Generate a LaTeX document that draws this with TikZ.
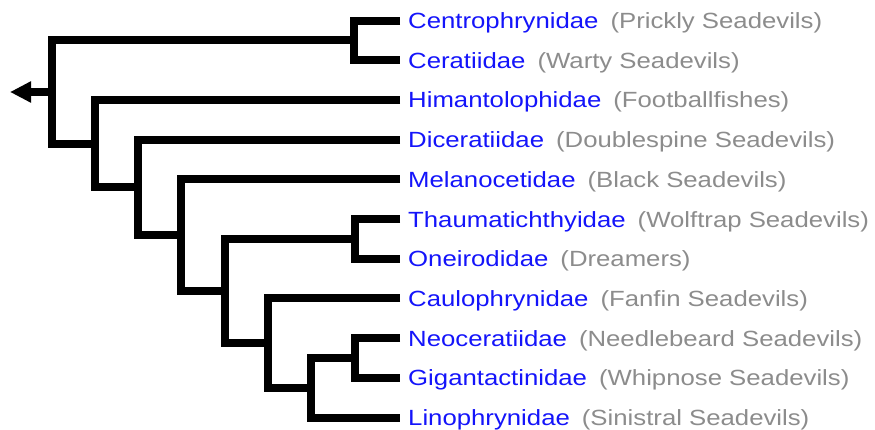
\documentclass[tikz,border=0pt]{standalone}
\usepackage{fontspec}
\setmainfont{Liberation Sans}[FakeStretch=1.17]
\usetikzlibrary{arrows.meta}
\definecolor{linkblue}{RGB}{20,20,250}
\definecolor{cgray}{RGB}{140,140,140}
\tikzset{
  br/.style={line width=8pt, line join=miter, line cap=butt},
  lab/.style={anchor=base west, inner sep=0pt, font=\fontsize{22}{26}\selectfont},
}
\newcommand{\leaflab}[2]{\textcolor{linkblue}{#1}\hspace{12pt}\textcolor{cgray}{(#2)}}
\begin{document}
\begin{tikzpicture}[x=1pt,y=-1pt]
\useasboundingbox (0,0) rectangle (875,429);
% leaf ends
\coordinate (e0) at (400,20.5);
\coordinate (e1) at (400,60.2);
\coordinate (e2) at (400,99.9);
\coordinate (e3) at (400,139.6);
\coordinate (e4) at (400,179.3);
\coordinate (e5) at (400,219.0);
\coordinate (e6) at (400,258.7);
\coordinate (e7) at (400,298.4);
\coordinate (e8) at (400,338.1);
\coordinate (e9) at (400,377.8);
\coordinate (e10) at (400,417.5);
% internal nodes
\coordinate (cc) at (354,40.35);
\coordinate (to) at (354.5,238.85);
\coordinate (ng) at (354.5,357.95);
\coordinate (ngl) at (311,387.7);
\coordinate (cau) at (268,343.05);
\coordinate (tocau) at (224.5,290.95);
\coordinate (mel) at (181,235.1);
\coordinate (dic) at (138,187.35);
\coordinate (him) at (95,143.6);
\coordinate (root) at (52,92);
\coordinate (tip) at (10,92);
% labels
\node[lab] (t0) at (408,28.5) {\leaflab{Centrophrynidae}{Prickly Seadevils}};
\node[lab] (t1) at (408,68.2) {\leaflab{Ceratiidae}{Warty Seadevils}};
\node[lab] (t2) at (408,107.9) {\leaflab{Himantolophidae}{Footballfishes}};
\node[lab] (t3) at (408,147.6) {\leaflab{Diceratiidae}{Doublespine Seadevils}};
\node[lab] (t4) at (408,187.3) {\leaflab{Melanocetidae}{Black Seadevils}};
\node[lab] (t5) at (408,227.0) {\leaflab{Thaumatichthyidae}{Wolftrap Seadevils}};
\node[lab] (t6) at (408,266.7) {\leaflab{Oneirodidae}{Dreamers}};
\node[lab] (t7) at (408,306.4) {\leaflab{Caulophrynidae}{Fanfin Seadevils}};
\node[lab] (t8) at (408,346.1) {\leaflab{Neoceratiidae}{Needlebeard Seadevils}};
\node[lab] (t9) at (408,385.8) {\leaflab{Gigantactinidae}{Whipnose Seadevils}};
\node[lab] (t10) at (408,425.5) {\leaflab{Linophrynidae}{Sinistral Seadevils}};
% branches
\draw[br] (e0) -| (cc) |- (e1);
\draw[br] (e5) -| (to) |- (e6);
\draw[br] (e8) -| (ng) |- (e9);
\draw[br] (ng) -| (ngl) |- (e10);
\draw[br] (e7) -| (cau) |- (ngl);
\draw[br] (to) -| (tocau) |- (cau);
\draw[br] (e4) -| (mel) |- (tocau);
\draw[br] (e3) -| (dic) |- (mel);
\draw[br] (e2) -| (him) |- (dic);
\draw[br] (cc) -| (root) |- (him);
\draw[br, -{Triangle[length=21pt,width=20pt]}] (root) -- (tip);
\end{tikzpicture}
\end{document}
